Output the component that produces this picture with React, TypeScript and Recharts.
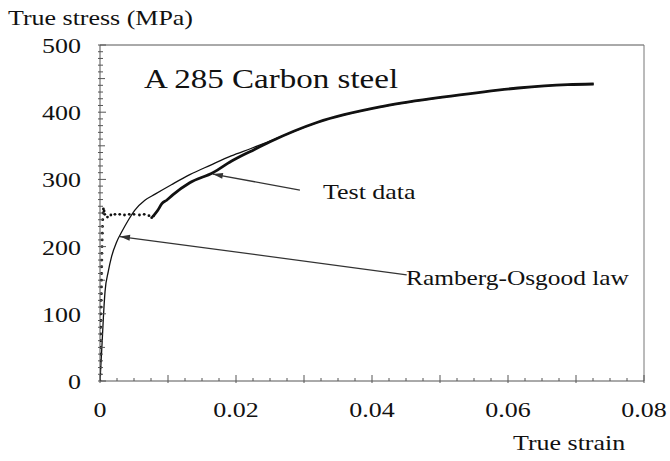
import React from 'react'
import {
  ComposedChart,
  Line,
  Scatter,
  XAxis,
  YAxis,
  ReferenceLine,
} from 'recharts'

const FONT = '"Liberation Serif", "Times New Roman", serif'
const INK = '#111'
const AXIS = '#555'
const STRETCH = 1.18

// test data, dotted part (elastic rise + yield plateau)
const dotStrain = [
  0, 0.00002, 0.00004, 0.00005, 0.00006, 0.00008, 0.0001, 0.00011, 0.00012,
  0.00014, 0.00015, 0.00016, 0.00018, 0.0002, 0.00021, 0.00022, 0.00024,
  0.00025, 0.00027, 0.00028, 0.0003, 0.00032, 0.00034, 0.00036, 0.0004,
  0.00045, 0.0005, 0.0006, 0.0007, 0.0011, 0.0016, 0.0022, 0.0029, 0.0036,
  0.0043, 0.005, 0.0058, 0.0065, 0.0072, 0.0076, 0.0078,
]
const dotStress = [
  0, 10, 20, 30, 40, 50, 60, 70, 80, 90, 100, 110, 120, 130, 140, 150, 160,
  170, 180, 190, 200, 210, 220, 230, 240, 250, 256, 253, 248, 244, 247, 248,
  248, 247, 248, 248, 247, 248, 246, 243, 245,
]

// test data, solid part (hardening)
const testStrain = [
  0.0078, 0.0085, 0.0091, 0.0098, 0.0107, 0.0132, 0.0166, 0.0193, 0.0222,
  0.025, 0.032, 0.0418, 0.0516, 0.0615, 0.0688, 0.0726,
]
const testStress = [
  245, 254, 264, 269, 277, 295, 310, 327, 342, 356, 385, 409, 424, 436, 441,
  442,
]

// Ramberg-Osgood law
const roStrain = [
  0, 0.0003, 0.0005, 0.00074, 0.00122, 0.0017, 0.00245, 0.0032, 0.0042,
  0.0051, 0.0066, 0.0081, 0.0105, 0.0132, 0.0162, 0.0193, 0.0222, 0.025,
  0.032, 0.0418, 0.0516, 0.0615, 0.0688, 0.0726,
]
const roStress = [
  0, 55, 95, 133, 163, 185, 207, 222, 240, 254, 269, 278, 292, 307, 321, 335,
  346, 357, 385, 409, 424, 436, 441, 442,
]

const strainTicks = Array.from({ length: 33 }, (_, i) => (i * 25) / 10000)
const stressTicks = Array.from({ length: 51 }, (_, i) => i * 10)

const toPoints = (xs: number[], ys: number[]) =>
  xs.map((x, i) => ({ x, y: ys[i] }))

const dotData = toPoints(dotStrain, dotStress)
const testData = toPoints(testStrain, testStress)
const roData = toPoints(roStrain, roStress)

function XTick(props: any) {
  const { x, y, payload } = props
  const k = Math.round(payload.value * 10000)
  const major = k % 100 === 0
  const labeled = k % 200 === 0
  return (
    <g>
      <line
        x1={x}
        x2={x}
        y1={y + (major ? 2 : 0)}
        y2={y - (major ? 6 : 3)}
        stroke={AXIS}
      />
      {labeled && (
        <text
          transform={`translate(${x},${y + 36}) scale(${STRETCH},1)`}
          textAnchor="middle"
          fontSize={22}
          fontFamily={FONT}
          fill={INK}
        >
          {k === 0 ? '0' : payload.value.toFixed(2)}
        </text>
      )}
    </g>
  )
}

function YTick(props: any) {
  const { x, y, payload } = props
  const v = payload.value
  const len = v % 100 === 0 ? 6 : v % 50 === 0 ? 5 : 3
  return (
    <g>
      <line x1={x - 2} x2={x + len} y1={y} y2={y} stroke={AXIS} />
      {v % 100 === 0 && (
        <text
          transform={`translate(${x - 19},${y + 8}) scale(${STRETCH},1)`}
          textAnchor="end"
          fontSize={22}
          fontFamily={FONT}
          fill={INK}
        >
          {v}
        </text>
      )}
    </g>
  )
}

// first segment point is the arrow head
function arrow(p: any) {
  const { x1, y1, x2, y2 } = p
  const a = Math.atan2(y1 - y2, x1 - x2)
  const L = 10
  const W = 3
  const bx = x1 - L * Math.cos(a)
  const by = y1 - L * Math.sin(a)
  const pts = `${x1},${y1} ${bx - W * Math.sin(a)},${by + W * Math.cos(a)} ${
    bx + W * Math.sin(a)
  },${by - W * Math.cos(a)}`
  return (
    <g>
      <line x1={x1} y1={y1} x2={x2} y2={y2} stroke="#333" strokeWidth={1.3} />
      <polygon points={pts} fill="#333" />
    </g>
  )
}

const dotShape = (p: any) => <circle cx={p.cx} cy={p.cy} r={1.4} fill={INK} />

function Label({ x, y, size, children }: any) {
  return (
    <text
      transform={`translate(${x},${y}) scale(${STRETCH},1)`}
      fontSize={size}
      fontFamily={FONT}
      fill={INK}
    >
      {children}
    </text>
  )
}

export default function App() {
  return (
    <div
      style={{
        position: 'absolute',
        left: 0,
        top: 0,
        width: 670,
        height: 461,
        background: '#fff',
      }}
    >
      <ComposedChart
        width={670}
        height={461}
        margin={{ top: 45, right: 26, bottom: 40, left: 40 }}
      >
        <XAxis
          type="number"
          dataKey="x"
          domain={[0, 0.08]}
          ticks={strainTicks}
          interval={0}
          tick={<XTick />}
          tickLine={false}
          tickSize={0}
          tickMargin={0}
          height={40}
          axisLine={{ stroke: AXIS }}
          allowDataOverflow
        />
        <YAxis
          type="number"
          domain={[0, 500]}
          ticks={stressTicks}
          interval={0}
          tick={<YTick />}
          tickLine={false}
          tickSize={0}
          tickMargin={0}
          width={60}
          axisLine={{ stroke: AXIS }}
          allowDataOverflow
        />
        <ReferenceLine y={500} stroke={AXIS} />
        <ReferenceLine x={0.08} stroke="#777" />
        <Line
          data={roData}
          dataKey="y"
          type="monotone"
          stroke={INK}
          strokeWidth={1.3}
          dot={false}
          isAnimationActive={false}
        />
        <Line
          data={testData}
          dataKey="y"
          type="monotone"
          stroke={INK}
          strokeWidth={2.8}
          dot={false}
          isAnimationActive={false}
        />
        <Scatter
          data={dotData}
          dataKey="y"
          fill={INK}
          shape={dotShape}
          isAnimationActive={false}
        />
        <ReferenceLine
          segment={[
            { x: 0.0166, y: 308 },
            { x: 0.0294, y: 284 },
          ]}
          shape={arrow}
        />
        <ReferenceLine
          segment={[
            { x: 0.00294, y: 215 },
            { x: 0.0451, y: 158 },
          ]}
          shape={arrow}
        />
      </ComposedChart>
      <svg
        width={670}
        height={461}
        style={{ position: 'absolute', left: 0, top: 0, pointerEvents: 'none' }}
      >
        <Label x={8} y={25} size={22}>True stress (MPa)</Label>
        <Label x={144} y={88} size={28}>A 285 Carbon steel</Label>
        <Label x={323} y={199} size={22}>Test data</Label>
        <Label x={406} y={285} size={21.5}>Ramberg-Osgood law</Label>
        <Label x={513} y={450} size={22}>True strain</Label>
      </svg>
    </div>
  )
}
